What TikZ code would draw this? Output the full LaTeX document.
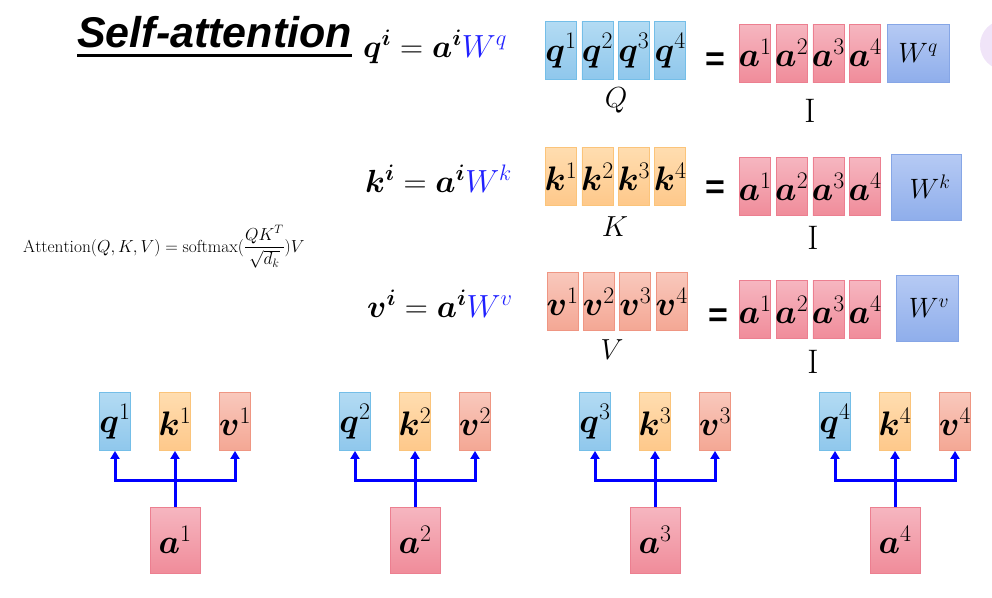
\RequirePackage{fix-cm}
\documentclass[tikz,border=0pt]{standalone}
\usepackage{amsmath,bm}
\usepackage{fontspec}
\newfontfamily\titlefont{Liberation Sans}
\usetikzlibrary{arrows.meta,positioning}
\definecolor{qtop}{HTML}{B3DBF3}\definecolor{qbot}{HTML}{8FC7EC}\definecolor{qedge}{HTML}{74BEE8}
\definecolor{ktop}{HTML}{FFDDB0}\definecolor{kbot}{HTML}{FEC88A}\definecolor{kedge}{HTML}{FBC47A}
\definecolor{vtop}{HTML}{F9C8BC}\definecolor{vbot}{HTML}{F4A794}\definecolor{vedge}{HTML}{EF9683}
\definecolor{atop}{HTML}{F6B6C0}\definecolor{abot}{HTML}{F08C9A}\definecolor{aedge}{HTML}{EC7F90}
\definecolor{wtop}{HTML}{B6CAF4}\definecolor{wbot}{HTML}{8FAEEB}\definecolor{wedge}{HTML}{86A6E6}
\definecolor{arrblue}{HTML}{0000FF}
\definecolor{eqblue}{HTML}{2020FF}
\definecolor{pcircle}{HTML}{F0E4F8}
\newcommand{\eqsize}{\fontsize{34}{40}\selectfont}
\newcommand{\boxlbl}[1]{\makebox[0pt]{$#1$}}
\tikzset{
  box/.style={line width=0.8pt, inner sep=0pt, minimum width=31pt, minimum height=58pt, font=\eqsize},
  qbox/.style={box, draw=qedge, top color=qtop, bottom color=qbot},
  kbox/.style={box, draw=kedge, top color=ktop, bottom color=kbot},
  vbox/.style={box, draw=vedge, top color=vtop, bottom color=vbot},
  abox/.style={box, draw=aedge, top color=atop, bottom color=abot},
  wbox/.style={box, draw=wedge, top color=wtop, bottom color=wbot, font=\fontsize{28}{32}\selectfont},
  eqline/.style={inner sep=0pt, anchor=base west, font=\fontsize{32}{38}\selectfont},
  eqsign/.style={inner sep=0pt, font=\titlefont\bfseries\fontsize{34}{40}\selectfont},
  matlbl/.style={inner sep=0pt, font=\fontsize{29}{34}\selectfont},
  stem/.style={draw=arrblue, line width=3pt},
  link/.style={stem, -{Triangle[length=8pt,width=9pt]}}
}
\begin{document}
\begin{tikzpicture}[x=1pt, y=-1pt]
  \useasboundingbox (0,0) rectangle (992,597);
  \fill[pcircle] (1005,45) circle[radius=25];
  % 제목
  \node[inner sep=0pt, anchor=base west, font=\titlefont\bfseries\itshape\fontsize{43}{50}\selectfont] (title) at (77,47) {Self-attention};
  \draw[line width=3pt] ([yshift=-8pt]title.base west) -- ([yshift=-8pt]title.base east);
  % 식
  \node[eqline] (eqq) at (363,57) {$\bm{q}^{\bm{i}} = \bm{a}^{\bm{i}}\textcolor{eqblue}{W^{q}}$};
  \node[eqline] (eqk) at (365,192) {$\bm{k}^{\bm{i}} = \bm{a}^{\bm{i}}\textcolor{eqblue}{W^{k}}$};
  \node[eqline] (eqv) at (367,317) {$\bm{v}^{\bm{i}} = \bm{a}^{\bm{i}}\textcolor{eqblue}{W^{v}}$};
  \node[inner sep=0pt, anchor=base west, font=\fontsize{17.4}{21}\selectfont] (attn) at (23,252)
    {$\mathrm{Attention}(Q,K,V)=\mathrm{softmax}(\dfrac{QK^T}{\sqrt{d_k}})V$};
  % 행렬
  \foreach \i in {1,...,4} {
    \node[qbox] (Q\i) at ({561+36.4*(\i-1)},50.5) {\boxlbl{\bm{q}^{\i}}};
    \node[abox] (Aq\i) at ({755+36.7*(\i-1)},53) {\boxlbl{\bm{a}^{\i}}};
    \node[kbox] (K\i) at ({561+36.4*(\i-1)},176.5) {\boxlbl{\bm{k}^{\i}}};
    \node[abox] (Ak\i) at ({755+36.7*(\i-1)},186.5) {\boxlbl{\bm{a}^{\i}}};
    \node[vbox] (V\i) at ({562.5+36.4*(\i-1)},301.5) {\boxlbl{\bm{v}^{\i}}};
    \node[abox] (Av\i) at ({755+36.7*(\i-1)},309.5) {\boxlbl{\bm{a}^{\i}}};
  }
  \node[wbox] (Wq) at (918,53) [minimum width=62pt] {$W^{q}$};
  \node[wbox] (Wk) at (926,187) [minimum width=70pt, minimum height=66pt] {\hspace*{8pt}$W^{k}$};
  \node[wbox] (Wv) at (927,308) [minimum width=62pt, minimum height=66pt] {\hspace*{4pt}$W^{v}$};
  \node[eqsign] (eq1) at (715,62) {=};
  \node[eqsign] (eq2) at (715,190) {=};
  \node[eqsign] (eq3) at (718,318) {=};
  \node[matlbl] (lq) at (616,100) {$Q$};
  \node[matlbl] (lk) at (615,227) {$K$};
  \node[matlbl] (lv) at (612,350) {$V$};
  \node[matlbl, font=\eqsize] (iq) at (810,111) {I};
  \node[matlbl, font=\eqsize] (ik) at (813,238) {I};
  \node[matlbl, font=\eqsize] (iv) at (813,362) {I};
  % 아래 그룹
  \foreach \i in {1,...,4} {
    \node[qbox] (q\i) at ({115+240*(\i-1)},421.5) {\boxlbl{\bm{q}^{\i}}};
    \node[kbox] (k\i) at ({175+240*(\i-1)},421.5) {\boxlbl{\bm{k}^{\i}}};
    \node[vbox] (v\i) at ({235+240*(\i-1)},421.5) {\boxlbl{\bm{v}^{\i}}};
    \node[abox, minimum width=50pt, minimum height=66pt] (a\i) at ({175+240*(\i-1)},540) {\boxlbl{\bm{a}^{\i}}};
    \coordinate (j\i) at ({175+240*(\i-1)},480);
    \draw[stem] (a\i.north) -- (j\i);
    \draw[link] (j\i) -| (q\i.south);
    \draw[link] (j\i) -- (k\i.south);
    \draw[link] (j\i) -| (v\i.south);
  }
\end{tikzpicture}
\end{document}
